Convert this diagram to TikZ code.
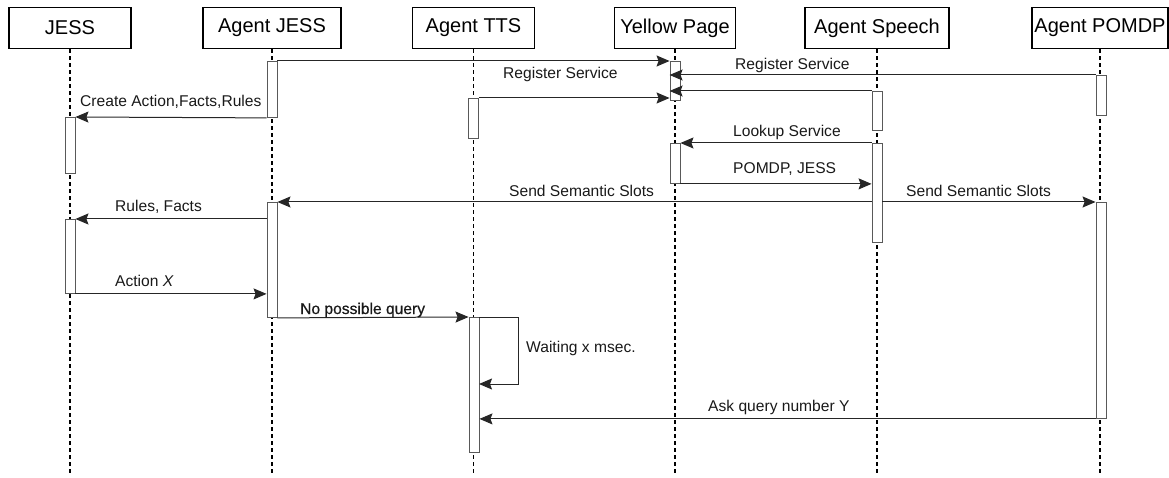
\documentclass[tikz,border=0pt]{standalone}
\usepackage{fontspec}
\setmainfont{Liberation Sans}
\newfontfamily\heavyfont[FakeBold=0.6]{Liberation Sans}
\usetikzlibrary{arrows.meta}
\begin{document}
\begin{tikzpicture}[x=1pt,y=-1pt,
  head/.style={draw, line width=1.1pt, fill=white, minimum height=41pt, inner sep=0pt,
    font=\fontsize{20}{24}\selectfont, anchor=north},
  life/.style={line width=1.6pt, dash pattern=on 4pt off 3pt},
  act/.style={draw=black!65, line width=0.9pt, fill=white, minimum width=10pt, inner sep=0pt, anchor=north},
  msg/.style={draw=black!85, line width=1pt, -{Stealth[length=13pt,width=11pt,inset=2pt]}},
  lbl/.style={font=\fontsize{15.6}{18}\selectfont, inner sep=0pt, anchor=base west, text=black!90}]
\useasboundingbox (0,0) rectangle (1169,478);

% headers
\node[head, minimum width=122pt] (h1) at (70,7) {JESS};
\node[head, minimum width=138pt] (h2) at (272,7) {Agent JESS};
\node[head, minimum width=122pt] (h3) at (473.5,7) {Agent TTS};
\node[head, minimum width=121pt] (h4) at (675,7) {Yellow Page};
\node[head, minimum width=144pt] (h5) at (877,7) {Agent Speech};
\node[head, minimum width=136pt] (h6) at (1100,7) {Agent POMDP};

% lifelines
\coordinate (e1) at (70,476);
\coordinate (e2) at (272,476);
\coordinate (e3) at (473.5,476);
\coordinate (e4) at (675,476);
\coordinate (e5) at (877,476);
\coordinate (e6) at (1100,476);
\foreach \i in {1,...,6} { \draw[life] (h\i.south) -- (e\i); }

% activation boxes
\node[act, minimum height=56pt]  (a1)  at (272,61) {};
\node[act, minimum height=56pt]  (a2)  at (70,117) {};
\node[act, minimum height=40pt]  (a3)  at (473.5,98) {};
\node[act, minimum height=39pt]  (a4)  at (675,61) {};
\node[act, minimum height=40pt]  (a5)  at (675,143) {};
\node[act, minimum height=39pt]  (a6)  at (877,91) {};
\node[act, minimum height=99pt]  (a7)  at (877,143) {};
\node[act, minimum height=40pt]  (a8)  at (1101,75) {};
\node[act, minimum height=216pt] (a9)  at (1101,202) {};
\node[act, minimum height=115pt] (a10) at (272,202) {};
\node[act, minimum height=74pt]  (a11) at (70,219) {};
\node[act, minimum height=135pt] (a12) at (474,317) {};

% messages
\draw[msg] (a1.north east) -- (a4.north west);
\draw[msg] (a8.north west) -- (a4.west |- a8.north west);
\draw[msg] (a6.north west) -- (a4.west |- a6.north west);
\draw[msg] (a3.north east) -- (a4.west |- a3.north east);
\draw[msg] (a1.south west) -- (a2.north east);
\draw[msg] (a7.north west) -- (a5.north east);
\draw[msg] (a5.south east) -- (a7.west |- a5.south east);
\draw[msg] (a7.west |- a9.north) -- (a10.north east);
\draw[msg] (a7.east |- a9.north) -- (a9.north west);
\draw[msg] (a10.west |- a11.north) -- (a11.north east);
\draw[msg] (a11.south east) -- (a10.west |- a11.south east);
\draw[msg] (a10.south east) -- (a12.north west);
\coordinate (selfc) at (518,317);
\coordinate (selfr) at (479,384);
\draw[msg] (a12.north east) -- (selfc) |- (selfr);
\draw[msg] (a9.south west) -- (a12.east |- a9.south west);

% labels
\node[lbl] (l1)  at (503,79)  {Register Service};
\node[lbl] (l2)  at (735,70)  {Register Service};
\node[lbl] (l3)  at (80,107)  {Create Action,Facts,Rules};
\node[lbl] (l4)  at (733,137) {Lookup Service};
\node[lbl] (l5)  at (733,174) {POMDP, JESS};
\node[lbl] (l6)  at (509,197) {Send Semantic Slots};
\node[lbl] (l7)  at (906,197) {Send Semantic Slots};
\node[lbl] (l8)  at (115,212) {Rules, Facts};
\node[lbl] (l9)  at (115,287) {Action \textit{X}};
\node[lbl, font=\heavyfont\fontsize{15.6}{18}\selectfont] (l10) at (300,314) {No possible query};
\node[lbl] (l11) at (526,352) {Waiting x msec.};
\node[lbl] (l12) at (708,411) {Ask query number Y};
\end{tikzpicture}
\end{document}
